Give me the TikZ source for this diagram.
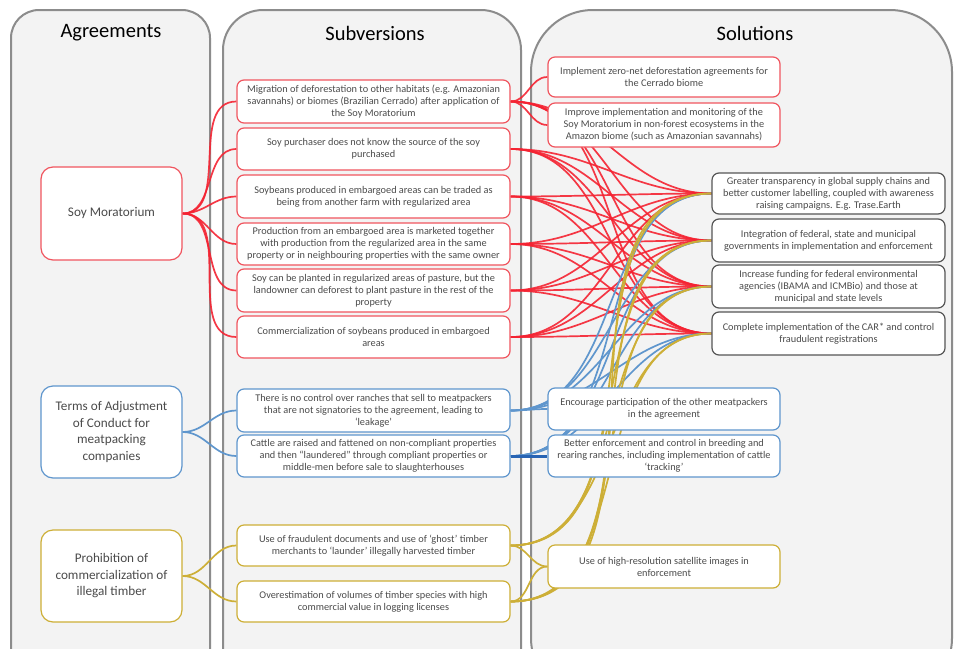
\documentclass[tikz,border=0pt]{standalone}
\usepackage{fontspec}
\setmainfont{Carlito}
\definecolor{sred}{RGB}{245,35,50}
\definecolor{sredbox}{RGB}{240,85,95}
\definecolor{sblue}{RGB}{95,150,205}
\definecolor{sdblue}{RGB}{40,100,180}
\definecolor{sgold}{RGB}{205,175,55}
\definecolor{sgray}{RGB}{85,85,85}
\definecolor{stext}{RGB}{75,75,75}
\definecolor{spanel}{RGB}{243,243,243}
\definecolor{spanelb}{RGB}{140,140,140}
\pgfdeclarelayer{bg}
\pgfdeclarelayer{links}
\pgfsetlayers{bg,links,main}
\tikzset{
  box/.style={draw, fill=white, rounded corners=7pt, line width=1.2pt, align=center, text=stext,
    font=\fontsize{10.3}{12}\selectfont, inner sep=0pt},
  subbox/.style={box, minimum width=273pt},
  solbox/.style={box, minimum width=232pt},
  agbox/.style={box, rounded corners=12pt, minimum width=141pt, minimum height=92pt,
    font=\fontsize{13.2}{16.5}\selectfont},
  redbox/.style={draw=sredbox},
  bluebox/.style={draw=sblue},
  goldbox/.style={draw=sgold},
  graybox/.style={draw=sgray},
  title/.style={text=black, font=\fontsize{20.5}{24}\selectfont},
  panel/.style={fill=spanel, draw=spanelb, line width=2pt},
  link/.style={line width=1.7pt, out=0, in=180},
  redlink/.style={link, draw=sred, opacity=0.9},
  bluelink/.style={link, draw=sblue},
  goldlink/.style={link, draw=sgold},
}
\begin{document}
\begin{tikzpicture}[x=1pt, y=-1pt]
\useasboundingbox (0,0) rectangle (955,648);
\begin{pgfonlayer}{bg}
  \fill[white] (0,0) rectangle (955,648);
  \draw[panel, rounded corners=28pt] (11,10) rectangle (210,700);
  \draw[panel, rounded corners=40pt] (223,10) rectangle (521,700);
  \draw[panel, rounded corners=62pt] (531,10) rectangle (952,700);
\end{pgfonlayer}

% titles
\node[title] (t1) at (111,33) {Agreements};
\node[title] (t2) at (375,33) {Subversions};
\node[title] (t3) at (755,33) {Solutions};

% agreements
\node[agbox, redbox, minimum height=93pt] (ag1) at (111.5,213.5) {Soy Moratorium};
\node[agbox, bluebox] (ag2) at (111.5,432) {Terms of Adjustment\\of Conduct for\\meatpacking\\companies};
\node[agbox, goldbox] (ag3) at (111.5,576) {Prohibition of\\commercialization of\\illegal timber};

% subversions
\node[subbox, redbox, minimum height=43pt] (v1) at (373.5,101.5) {Migration of deforestation to other habitats (e.g. Amazonian\\savannahs) or biomes (Brazilian Cerrado) after application of\\the Soy Moratorium};
\node[subbox, redbox, minimum height=42pt] (v2) at (373.5,149) {Soy purchaser does not know the source of the soy\\purchased};
\node[subbox, redbox, minimum height=43pt] (v3) at (373.5,196.5) {Soybeans produced in embargoed areas can be traded as\\being from another farm with regularized area};
\node[subbox, redbox, minimum height=42pt] (v4) at (373.5,244) {Production from an embargoed area is marketed together\\with production from the regularized area in the same\\property or in neighbouring properties with the same owner};
\node[subbox, redbox, minimum height=43pt] (v5) at (373.5,290.5) {Soy can be planted in regularized areas of pasture, but the\\landowner can deforest to plant pasture in the rest of the\\property};
\node[subbox, redbox, minimum height=42pt] (v6) at (373.5,337) {Commercialization of soybeans produced in embargoed\\areas};
\node[subbox, bluebox, minimum height=43pt] (v7) at (373.5,410.5) {There is no control over ranches that sell to meatpackers\\that are not signatories to the agreement, leading to\\`leakage'};
\node[subbox, bluebox, minimum height=42pt] (v8) at (373.5,456) {Cattle are raised and fattened on non-compliant properties\\and then ``laundered'' through compliant properties or\\middle-men before sale to slaughterhouses};
\node[subbox, goldbox, minimum height=41pt] (v9) at (373.5,545.5) {Use of fraudulent documents and use of `ghost' timber\\merchants to `launder' illegally harvested timber};
\node[subbox, goldbox, minimum height=41pt] (v10) at (373.5,601.5) {Overestimation of volumes of timber species with high\\commercial value in logging licenses};

% solutions
\node[solbox, redbox, minimum height=40pt] (s1) at (664,77) {Implement zero-net deforestation agreements for\\the Cerrado biome};
\node[solbox, redbox, minimum height=44pt] (s2) at (664,125) {Improve implementation and monitoring of the\\Soy Moratorium in non-forest ecosystems in the\\Amazon biome (such as Amazonian savannahs)};
\node[solbox, graybox, minimum width=233pt, minimum height=41pt] (s3) at (828.5,193.5) {Greater transparency in global supply chains and\\better customer labelling, coupled with awareness\\raising campaigns. E.g. Trase.Earth};
\node[solbox, graybox, minimum width=233pt, minimum height=43pt] (s4) at (828.5,240.5) {Integration of federal, state and municipal\\governments in implementation and enforcement};
\node[solbox, graybox, minimum width=233pt, minimum height=43pt] (s5) at (828.5,286.5) {Increase funding for federal environmental\\agencies (IBAMA and ICMBio) and those at\\municipal and state levels};
\node[solbox, graybox, minimum width=233pt, minimum height=43pt] (s6) at (828.5,333.5) {Complete implementation of the CAR* and control\\fraudulent registrations};
\node[solbox, bluebox, minimum height=42pt] (s7) at (664,409) {Encourage participation of the other meatpackers\\in the agreement};
\node[solbox, bluebox, minimum height=42pt] (s8) at (664,456) {Better enforcement and control in breeding and\\rearing ranches, including implementation of cattle\\`tracking'};
\node[solbox, goldbox, minimum height=43pt] (s9) at (664,566.5) {Use of high-resolution satellite images in\\enforcement};

\begin{pgfonlayer}{links}
  % agreement -> subversions
  \foreach \v in {v1,v2,v3,v4,v5,v6} \draw[redlink] (ag1.east) to (\v.west);
  \foreach \v in {v7,v8} \draw[bluelink] (ag2.east) to (\v.west);
  \foreach \v in {v9,v10} \draw[goldlink] (ag3.east) to (\v.west);
  % subversions -> solutions
  \foreach \s in {s1,s2} \draw[redlink] (v1.east) to (\s.west);
  \foreach \v in {v1,v2,v3,v4,v5,v6}
    \foreach \s in {s3,s4,s5,s6} \draw[redlink] (\v.east) to (\s.west);
  \foreach \v in {v7,v8}
    \foreach \s in {s3,s4,s5,s6} \draw[bluelink] (\v.east) to (\s.west);
  \foreach \v in {v9,v10}
    \foreach \s in {s3,s4,s5,s6} \draw[goldlink] (\v.east) to (\s.west);
  \draw[bluelink] (v7.east) to (s7.west);
  \draw[bluelink, draw=sdblue, line width=3pt] (v8.east) to (s8.west);
  \draw[goldlink] (v9.east) to (s9.west);
  \draw[goldlink] (v10.east) to (s9.west);
\end{pgfonlayer}
\end{tikzpicture}
\end{document}
